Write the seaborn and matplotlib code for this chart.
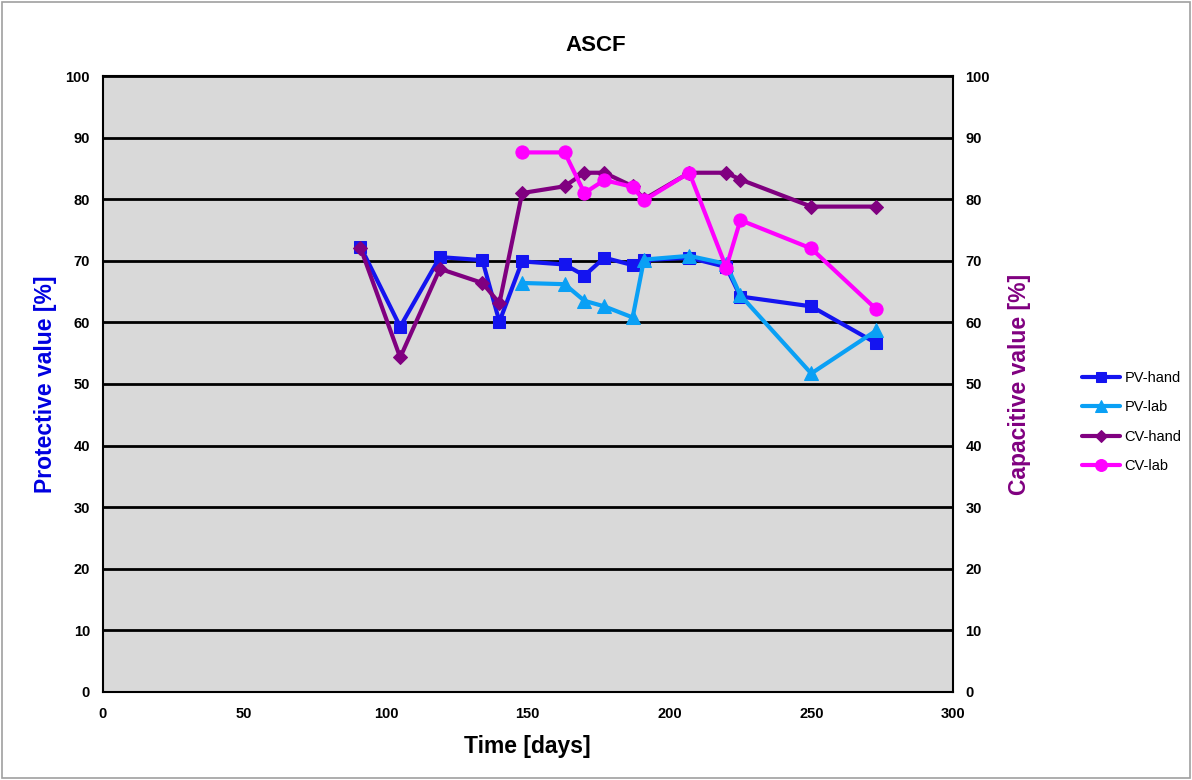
import matplotlib
matplotlib.use("Agg")
import matplotlib.pyplot as plt
import matplotlib.patches as mpatches
import seaborn as sns
import pandas as pd

# Measurement days and values per series
days_pv_hand = [91, 105, 119, 134, 140, 148, 163, 170, 177, 187, 191, 207, 220, 225, 250, 273]
pv_hand = [72.3, 59.3, 70.6, 70.1, 60.1, 69.9, 69.4, 67.6, 70.5, 69.3, 70.1, 70.5, 69.0, 64.2, 62.6, 56.6]

days_pv_lab = [148, 163, 170, 177, 187, 191, 207, 220, 225, 250, 273]
pv_lab = [66.4, 66.2, 63.5, 62.6, 60.8, 70.2, 70.8, 69.5, 64.4, 51.7, 58.7]

days_cv_hand = [91, 105, 119, 134, 140, 148, 163, 170, 177, 187, 191, 207, 220, 225, 250, 273]
cv_hand = [72.1, 54.3, 68.7, 66.4, 63.1, 81.0, 82.1, 84.3, 84.3, 82.1, 80.0, 84.3, 84.3, 83.2, 78.8, 78.8]

days_cv_lab = [148, 163, 170, 177, 187, 191, 207, 220, 225, 250, 273]
cv_lab = [87.6, 87.6, 81.0, 83.1, 82.0, 79.8, 84.3, 68.9, 76.6, 72.0, 62.1]

y_ticks = list(range(0, 101, 10))
x_ticks = list(range(0, 301, 50))

series = [
    ("PV-hand", days_pv_hand, pv_hand, "#1414F0", "s", 8.5),
    ("PV-lab", days_pv_lab, pv_lab, "#0AA0F5", "^", 10),
    ("CV-hand", days_cv_hand, cv_hand, "#800080", "D", 7),
    ("CV-lab", days_cv_lab, cv_lab, "#FF00FF", "o", 9.5),
]

frames = []
for name, d, v, *_ in series:
    frames.append(pd.DataFrame({"day": d, "value": v, "series": name}))
df = pd.concat(frames, ignore_index=True)

sns.set_theme(style="white")
plt.rcParams["font.family"] = ["Liberation Sans", "DejaVu Sans"]
plt.rcParams["text.color"] = "black"
plt.rcParams["axes.labelcolor"] = "black"
plt.rcParams["xtick.color"] = "black"
plt.rcParams["ytick.color"] = "black"

fig = plt.figure(figsize=(11.92, 7.80), dpi=100)
ax = fig.add_axes([0.086, 0.113, 0.7135, 0.7895])
ax.set_facecolor("#D9D9D9")

for y in y_ticks:
    ax.axhline(y, color="black", lw=2.0, zorder=1)

for name, d, v, color, marker, ms in series:
    sub = df[df["series"] == name]
    sns.lineplot(data=sub, x="day", y="value", ax=ax, sort=False, color=color,
                 marker=marker, markersize=ms, markeredgecolor=color, lw=3,
                 label=name, zorder=3)

ax.set_xlim(0, 300)
ax.set_ylim(0, 100)
ax.set_xticks(x_ticks)
ax.set_yticks(y_ticks)
for s in ax.spines.values():
    s.set_color("black")
    s.set_linewidth(1.5)
ax.tick_params(axis="x", labelsize=10.5, pad=11, length=0)
ax.tick_params(axis="y", labelsize=10.5, pad=9, length=0)
for lab in ax.get_xticklabels() + ax.get_yticklabels():
    lab.set_fontweight("bold")

ax.set_xlabel("Time [days]", fontsize=16.5, fontweight="bold", labelpad=10)
ax.set_ylabel("Protective value [%]", fontsize=16.5, fontweight="bold",
              color="#0000E0", labelpad=6)

ax2 = ax.twinx()
ax2.set_ylim(0, 100)
ax2.set_yticks(y_ticks)
ax2.tick_params(axis="y", labelsize=10.5, pad=9, length=0)
for lab in ax2.get_yticklabels():
    lab.set_fontweight("bold")
ax2.set_ylabel("Capacitive value [%]", fontsize=16.5, fontweight="bold",
               color="#800080", labelpad=13)
for s in ax2.spines.values():
    s.set_visible(False)

ax.set_title("ASCF", fontsize=16, fontweight="bold", pad=18, x=0.58)

handles, labels = ax.get_legend_handles_labels()
ax.legend_.remove()
fig.legend(handles, labels, loc="center left", bbox_to_anchor=(0.897, 0.459),
           frameon=False, fontsize=10.5, handlelength=2.6, labelspacing=1.05,
           handletextpad=0.3, markerscale=0.9)

fig.patches.append(mpatches.Rectangle((0.002, 0.002), 0.996, 0.996,
                                      transform=fig.transFigure, fill=False,
                                      edgecolor="#A0A0A0", lw=1.2))

fig.savefig("out.png", dpi=100, facecolor="white")
